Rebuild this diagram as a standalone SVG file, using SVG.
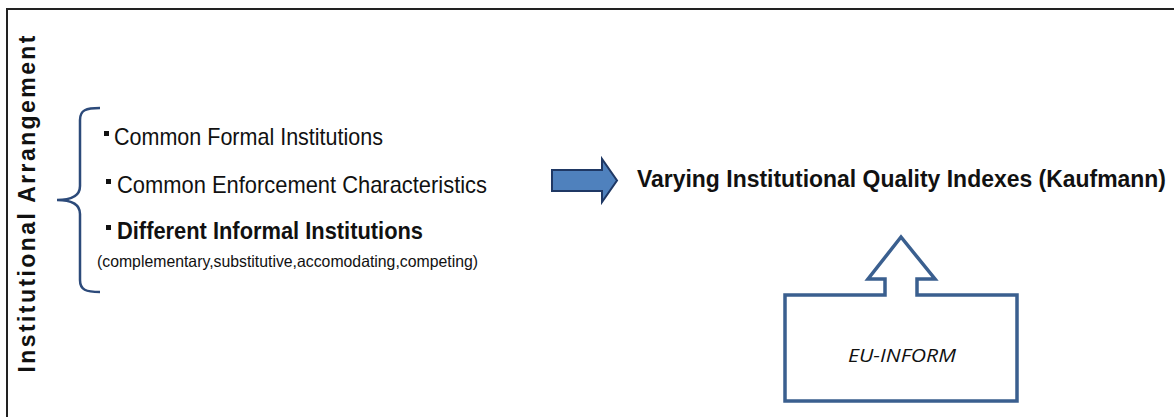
<svg xmlns="http://www.w3.org/2000/svg" width="1174" height="417" viewBox="0 0 1174 417">
<style>
.t{font-family:"Liberation Sans",Arial,sans-serif;fill:#111}
.b{font-weight:bold}
.blt{fill:#111}
</style>
<rect width="1174" height="417" fill="#fff"/>
<path d="M7,417 V9 H1174" fill="none" stroke="#222" stroke-width="2"/>
<g id="side-label">
<text class="t b" transform="translate(35,204) rotate(-90)" text-anchor="middle" font-size="23" textLength="337" lengthAdjust="spacing">Institutional Arrangement</text>
</g>
<g id="arrangement">
<path d="M100,108 C86,108 80,110 80,120 V186 C80,196 72,200 57,200 C72,200 80,204 80,214 V280 C80,290 86,292 100,292" fill="none" stroke="#2c4a7a" stroke-width="2.5"/>
<rect class="blt" x="104" y="131" width="5" height="5"/>
<text class="t" x="114" y="145" font-size="24" textLength="269" lengthAdjust="spacingAndGlyphs">Common Formal Institutions</text>
<rect class="blt" x="106" y="179" width="5" height="5"/>
<text class="t" x="117" y="193" font-size="24" textLength="370" lengthAdjust="spacingAndGlyphs">Common Enforcement Characteristics</text>
<rect class="blt" x="106" y="225" width="5" height="5"/>
<text class="t b" x="117" y="239" font-size="24" textLength="306" lengthAdjust="spacingAndGlyphs">Different Informal Institutions</text>
<text class="t" x="97" y="267" font-size="16.5" textLength="381" lengthAdjust="spacingAndGlyphs">(complementary,substitutive,accomodating,competing)</text>
</g>
<g id="connectors">
<polygon points="552,170 602,170 602,159 617,180.5 602,202 602,191 552,191" fill="#4f81bd" stroke="#1f3864" stroke-width="2"/>
</g>
<g id="quality">
<text class="t b" x="637" y="187" font-size="23" textLength="529" lengthAdjust="spacingAndGlyphs">Varying Institutional Quality Indexes (Kaufmann)</text>
</g>
<g id="eu-inform">
<path d="M785,295 H885 V279 H868 L901,237 L935,279 H917 V295 H1017 V401 H785 Z" fill="#fff" stroke="#3a5f8f" stroke-width="3.5" stroke-linejoin="miter"/>
<text class="t" x="902" y="362" font-size="19" font-style="italic" text-anchor="middle" textLength="108" lengthAdjust="spacingAndGlyphs" style="font-family:'Open Sans','Liberation Sans',sans-serif">EU-INFORM</text>
</g>
</svg>
